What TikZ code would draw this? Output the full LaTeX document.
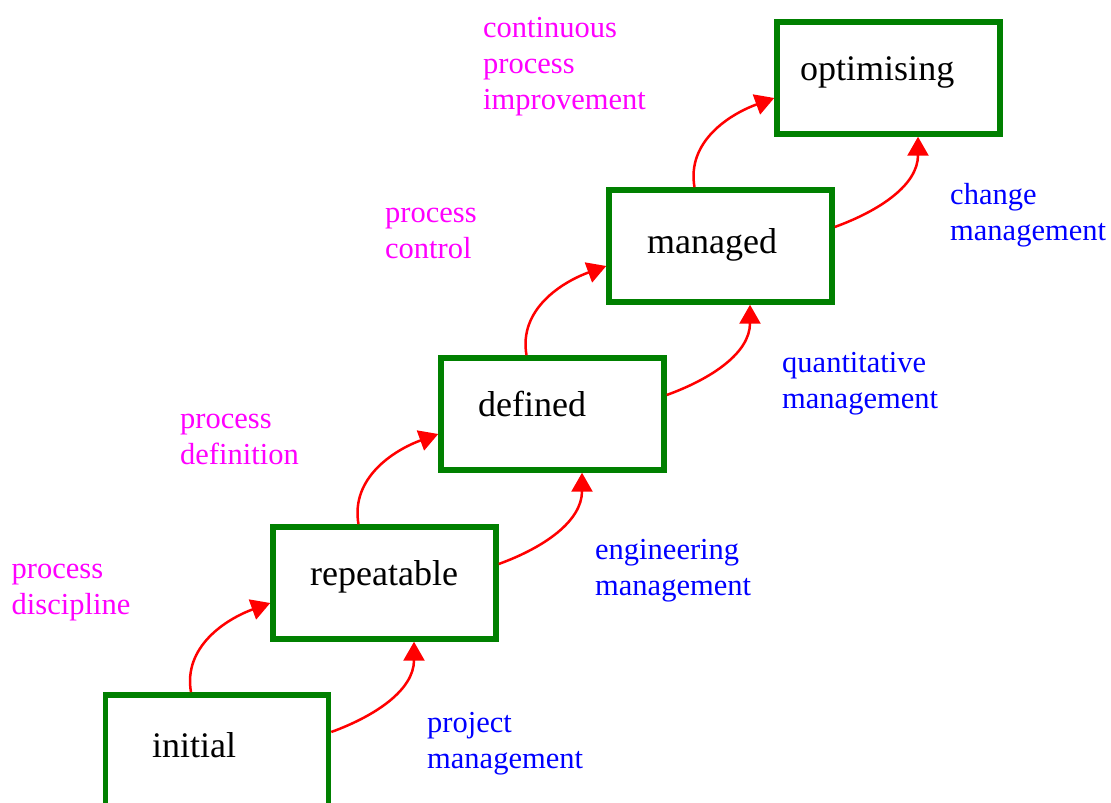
\documentclass[tikz,border=0pt]{standalone}
\usepackage{fontspec}
\setmainfont{Liberation Serif}
\usetikzlibrary{arrows.meta}
\definecolor{stagegreen}{RGB}{0,128,0}
\definecolor{keycolor}{RGB}{255,0,255}
\definecolor{areacolor}{RGB}{0,0,255}
\tikzset{
        stage/.style={draw=stagegreen, line width=5.5pt, minimum width=223pt, minimum height=112pt, inner sep=0pt},
        stagename/.style={anchor=base west, inner sep=0pt, font=\fontsize{36}{42}\selectfont},
        keynote/.style={anchor=base west, inner sep=0pt, align=left, text=keycolor, font=\fontsize{30.5}{36}\selectfont},
        areanote/.style={keynote, text=areacolor},
        climbarrow/.style={draw=red, line width=2.5pt, -{Triangle[length=19pt,width=21pt]}}
}

\begin{document}
\begin{tikzpicture}[x=1pt, y=1pt]
        \useasboundingbox (0,0) rectangle (1111,803);

        \node (initial) [stage] at (217,52) {};
        \node (repeatable) [stage] at (384.5,220) {};
        \node (defined) [stage] at (552.5,389) {};
        \node (managed) [stage] at (720.5,557) {};
        \node (optimising) [stage] at (888.5,725) {};

        \node (initialname) [stagename, xshift=-65pt, yshift=-7pt] at (initial) {initial};
        \node (repeatablename) [stagename, xshift=-74.5pt, yshift=-3pt] at (repeatable) {repeatable};
        \node (definedname) [stagename, xshift=-74.5pt, yshift=-3pt] at (defined) {defined};
        \node (managedname) [stagename, xshift=-73.5pt, yshift=-8pt] at (managed) {managed};
        \node (optimisingname) [stagename, xshift=-88.5pt, yshift=-3pt] at (optimising) {optimising};

        \node (discipline) [keynote] at (11.5,188) {process\\discipline};
        \node (definition) [keynote] at (180,338) {process\\definition};
        \node (control) [keynote] at (385,544) {process\\control};
        \node (improvement) [keynote] at (483,693) {continuous\\process\\improvement};

        \node (projectmgmt) [areanote] at (427,34) {project\\management};
        \node (engineeringmgmt) [areanote] at (595,207) {engineering\\management};
        \node (quantitativemgmt) [areanote] at (782,394) {quantitative\\management};
        \node (changemgmt) [areanote] at (950,562) {change\\management};

        \draw[climbarrow] ([xshift=-26pt]initial.north) to[out=100, in=200] ([yshift=-20pt]repeatable.west);
        \draw[climbarrow] ([xshift=-26pt]repeatable.north) to[out=100, in=200] ([yshift=-20pt]defined.west);
        \draw[climbarrow] ([xshift=-26pt]defined.north) to[out=100, in=200] ([yshift=-20pt]managed.west);
        \draw[climbarrow] ([xshift=-26pt]managed.north) to[out=100, in=200] ([yshift=-20pt]optimising.west);

        \draw[climbarrow] ([yshift=19pt]initial.east) to[out=20, in=270] ([xshift=29.5pt]repeatable.south);
        \draw[climbarrow] ([yshift=19pt]repeatable.east) to[out=20, in=270] ([xshift=29.5pt]defined.south);
        \draw[climbarrow] ([yshift=19pt]defined.east) to[out=20, in=270] ([xshift=29.5pt]managed.south);
        \draw[climbarrow] ([yshift=19pt]managed.east) to[out=20, in=270] ([xshift=29.5pt]optimising.south);
\end{tikzpicture}
\end{document}
